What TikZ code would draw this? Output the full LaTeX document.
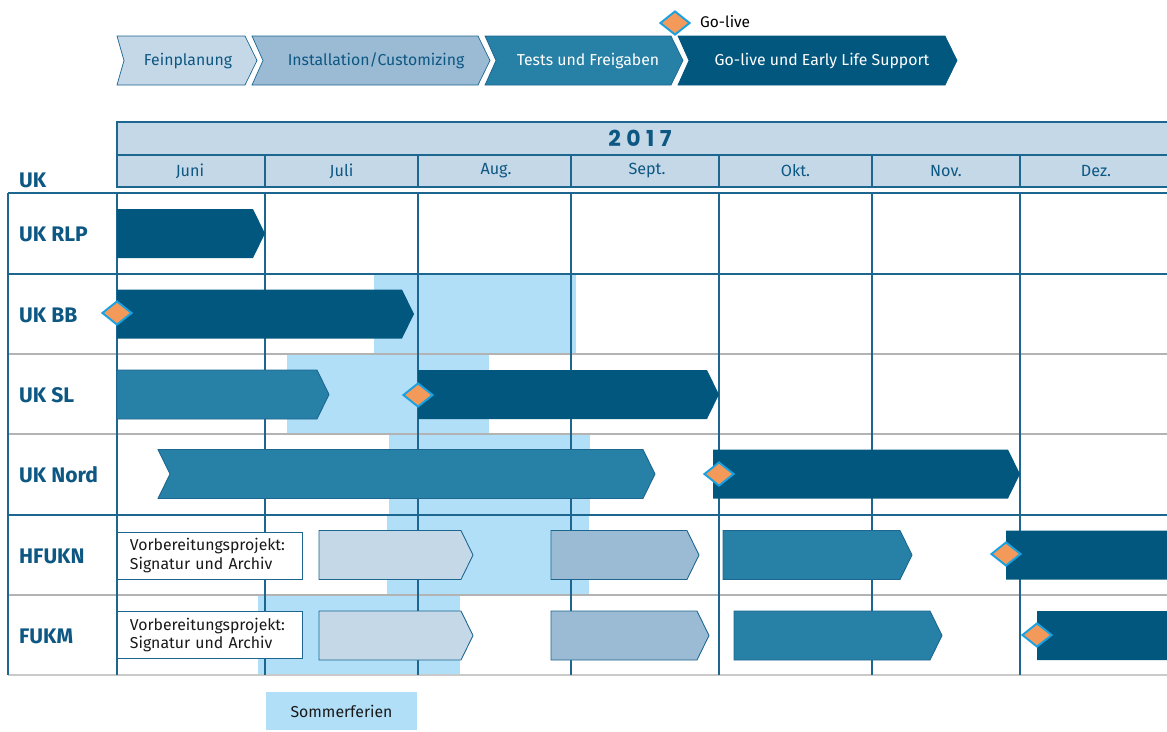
\documentclass[tikz,border=0pt]{standalone}
\usepackage{fontspec}
\setmainfont{Fira Sans}
\newfontfamily\yearfont{Poppins}[LetterSpace=25]
\usetikzlibrary{shapes.geometric}

\definecolor{pale}{HTML}{C5D8E7}
\definecolor{steel}{HTML}{9BBBD4}
\definecolor{petrol}{HTML}{2780A5}
\definecolor{deep}{HTML}{02577F}
\definecolor{rim}{HTML}{1C6690}
\definecolor{holiday}{HTML}{B1DFF8}
\definecolor{milestone}{HTML}{F39A5B}
\definecolor{msrim}{HTML}{1AA1E1}
\definecolor{ink}{HTML}{0D5783}
\definecolor{rowgray}{HTML}{B3B3B3}

% chevron bar: [style]{left}{tip}{centre y}{notch depth}
\newcommand\ganttbar[5][]{%
  \path[#1] (#2,#4-24.5) -- (#3-12,#4-24.5) -- (#3,#4) -- (#3-12,#4+24.5)
    -- (#2,#4+24.5) -- (#2+#5,#4) -- cycle;}

\begin{document}
\begin{tikzpicture}[
    x=0.02cm, y=-0.02cm,
    bar/.style={draw=rim, line width=0.5pt},
    grid/.style={draw=rim, line width=0.9pt},
    thin/.style={draw=rowgray, line width=0.9pt},
    ms/.style={diamond, draw=msrim, fill=milestone, line width=1.1pt,
               inner sep=0pt, minimum width=0.6cm, minimum height=0.48cm},
    phase/.style={font=\fontsize{9}{11}\selectfont},
    month/.style={text=ink, font=\fontsize{9.2}{11}\selectfont},
    rowlabel/.style={anchor=west, text=ink, font=\bfseries\fontsize{12}{14}\selectfont},
    notebox/.style={anchor=west, draw=rim, fill=white, line width=0.5pt, align=left,
                    text width=3.2cm, inner xsep=0.25cm, minimum height=0.94cm,
                    font=\fontsize{9}{10.8}\selectfont, text=black!90}
    ]
    \useasboundingbox (0,0) rectangle (1167,731);
    \clip (0,0) rectangle (1167,731);

    % project phases
    \ganttbar[phase, draw=rim, fill=pale]{117}{257}{60.5}{7}
    \ganttbar[phase, draw=rim, fill=steel]{252}{490}{60.5}{11}
    \ganttbar[phase, draw=rim, fill=petrol]{485}{683}{60.5}{11}
    \ganttbar[phase, draw=deep, fill=deep]{678}{957}{60.5}{11}
    \node[phase, text=ink] (fein) at (188,61) {Feinplanung};
    \node[phase, text=ink] (inst) at (376,61) {Installation/Customizing};
    \node[phase, text=white] (test) at (588,61) {Tests und Freigaben};
    \node[phase, text=white] (live) at (822,61) {Go-live und Early Life Support};
    \node[ms] (msleg) at (675,23) {};
    \node[anchor=west, font=\fontsize{8.8}{10}\selectfont] (golive) at (694,22) {Go-live};

    % summer holidays
    \fill[holiday] (374,274) rectangle (576,354);
    \fill[holiday] (287,354) rectangle (489,434);
    \fill[holiday] (389,434) rectangle (590,515);
    \fill[holiday] (387,515) rectangle (589,595);
    \fill[holiday] (258,595) rectangle (460,675);

    % year and months
    \draw[grid, fill=pale] (117,122) rectangle (1180,187);
    \draw[grid] (117,155) -- (1180,155);
    \foreach \x in {265,418,571,719,872,1020}
        \draw[grid] (\x,155) -- (\x,187);
    \node[text=ink, font=\yearfont\bfseries\fontsize{12.5}{14}\selectfont] (year) at (640,138) {2017};
    \foreach \m/\x/\name in {1/190/Juni, 2/341.5/Juli, 3/496/Aug., 4/647/Sept.,
                             5/795.5/Okt., 6/946/Nov., 7/1096/Dez.}
        \node[month] (m\m) at (\x,171) {\name};
    \node[rowlabel] (uk) at (13,180) {UK};

    % table
    \foreach \y in {354,434,595}
        \draw[thin] (8,\y) -- (1180,\y);
    \draw[thin, draw=rowgray!70] (8,675) -- (1180,675);
    \draw[grid, line width=1.3pt] (8,193) -- (1180,193);
    \foreach \y in {274,515}
        \draw[grid] (8,\y) -- (1180,\y);
    \foreach \x in {8,117,265,418,571,719,872,1020}
        \draw[grid] (\x,193) -- (\x,675);

    \foreach \r/\y/\name in {1/234/UK RLP, 2/315/UK BB, 3/395.5/UK SL,
                             4/475/UK Nord, 5/556/HFUKN, 6/636/FUKM}
        \node[rowlabel] (r\r) at (13,\y) {\name};

    % UK RLP
    \ganttbar[fill=deep]{117}{265}{233.5}{0}
    % UK BB
    \ganttbar[fill=deep]{117}{414}{314}{0}
    % UK SL
    \ganttbar[bar, fill=petrol]{117}{329}{394.5}{0}
    \ganttbar[fill=deep]{418}{719}{394.5}{0}
    % UK Nord
    \ganttbar[bar, fill=petrol]{158}{655}{474}{12}
    \ganttbar[fill=deep]{713}{1020}{474}{0}
    % HFUKN
    \node[notebox] (prep1) at (117,555.5) {Vorbereitungsprojekt:\\Signatur und Archiv};
    \ganttbar[bar, fill=pale]{319}{473}{555}{0}
    \ganttbar[bar, fill=steel]{551}{699}{555}{0}
    \ganttbar[bar, fill=petrol]{723}{912}{555}{0}
    \ganttbar[fill=deep]{1006}{1200}{555}{0}
    % FUKM
    \node[notebox] (prep2) at (117,635) {Vorbereitungsprojekt:\\Signatur und Archiv};
    \ganttbar[bar, fill=pale]{319}{473}{635.5}{0}
    \ganttbar[bar, fill=steel]{551}{709}{635.5}{0}
    \ganttbar[bar, fill=petrol]{734}{942}{635.5}{0}
    \ganttbar[fill=deep]{1037}{1200}{635.5}{0}

    % go-live milestones
    \node[ms] (d1) at (117,313) {};
    \node[ms] (d2) at (418,395) {};
    \node[ms] (d3) at (719,474) {};
    \node[ms] (d4) at (1006,554) {};
    \node[ms] (d5) at (1037,635) {};

    % legend
    \node[fill=holiday, minimum width=3.02cm, minimum height=0.76cm,
          font=\fontsize{9}{10}\selectfont, text=black!90] (ferien) at (341.5,711) {Sommerferien};
\end{tikzpicture}
\end{document}
